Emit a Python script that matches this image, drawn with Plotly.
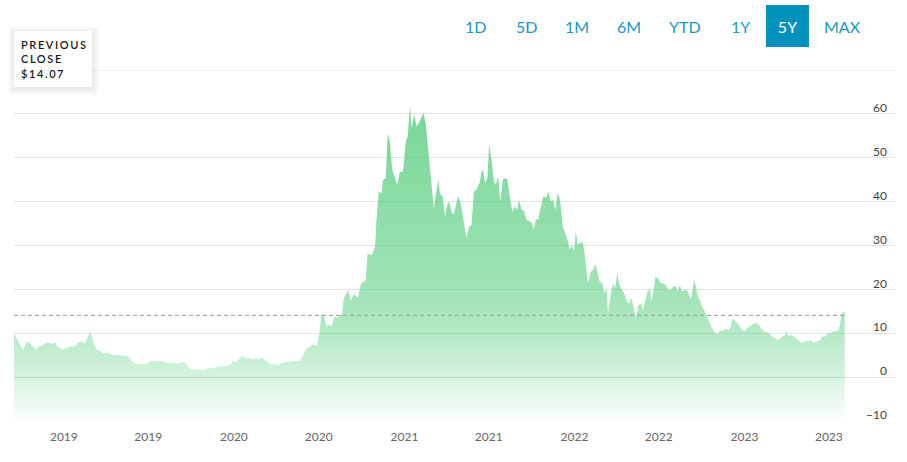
import pandas as pd
import plotly.graph_objects as go

# ---------------- data ----------------
START_DATE = "2018-09-16"
RANGE_END_DATE = "2023-11-20"

day_offsets = [
    0, 6, 13, 19, 24, 27, 34, 41, 47, 52,
    59, 67, 73, 81, 88, 94, 102, 109, 116, 124,
    131, 137, 145, 152, 157, 163, 167, 172, 177, 185,
    191, 199, 206, 212, 220, 227, 234, 242, 249, 255,
    263, 270, 277, 285, 292, 298, 306, 317, 324, 338,
    352, 360, 367, 373, 378, 388, 399, 410, 416, 424,
    431, 438, 446, 456, 464, 470, 478, 485, 491, 497,
    504, 510, 517, 524, 532, 539, 545, 552, 558, 566,
    573, 582, 588, 596, 603, 609, 614, 617, 620, 628,
    635, 642, 650, 655, 660, 665, 671, 674, 682, 687,
    695, 704, 708, 717, 723, 730, 738, 745, 755, 759,
    768, 775, 778, 783, 789, 792, 798, 802, 807, 812,
    818, 823, 828, 835, 841, 845, 850, 853, 859, 864,
    869, 875, 879, 884, 889, 895, 901, 906, 911, 914,
    920, 925, 930, 934, 939, 944, 949, 953, 959, 964,
    971, 977, 982, 987, 993, 999, 1004, 1007, 1011, 1016,
    1020, 1025, 1030, 1034, 1039, 1044, 1049, 1054, 1059, 1064,
    1070, 1075, 1080, 1084, 1090, 1094, 1100, 1106, 1111, 1116,
    1120, 1125, 1130, 1136, 1142, 1147, 1152, 1157, 1162, 1167,
    1172, 1178, 1182, 1188, 1193, 1198, 1202, 1206, 1210, 1215,
    1220, 1224, 1228, 1232, 1238, 1243, 1248, 1253, 1258, 1262,
    1267, 1272, 1275, 1281, 1286, 1290, 1295, 1299, 1304, 1310,
    1315, 1320, 1326, 1331, 1335, 1340, 1346, 1350, 1356, 1360,
    1365, 1368, 1372, 1377, 1383, 1388, 1393, 1399, 1404, 1410,
    1415, 1420, 1424, 1429, 1434, 1440, 1446, 1451, 1454, 1459,
    1463, 1467, 1472, 1477, 1483, 1490, 1497, 1504, 1510, 1515,
    1522, 1527, 1533, 1539, 1541, 1547, 1554, 1562, 1567, 1572,
    1579, 1587, 1594, 1599, 1605, 1612, 1619, 1626, 1633, 1640,
    1647, 1655, 1658, 1662, 1669, 1676, 1683, 1690, 1698, 1705,
    1710, 1715, 1723, 1730, 1735, 1740, 1748, 1755, 1762, 1768,
    1773, 1776, 1780, 1783,
]

prices = [
    10.0, 8.9, 7.3, 6.2, 7.3, 8.1, 7.7, 6.9, 6.2, 6.9,
    7.1, 7.7, 7.9, 7.6, 7.9, 6.9, 6.3, 6.5, 6.8, 6.9,
    7.1, 7.9, 8.1, 7.7, 8.9, 10.2, 9.2, 7.3, 6.3, 6.0,
    5.4, 5.6, 5.3, 5.0, 5.1, 5.0, 5.0, 4.8, 4.3, 3.4,
    3.0, 2.9, 2.9, 3.0, 3.7, 3.6, 3.6, 3.7, 3.3, 3.3,
    3.1, 3.4, 3.3, 2.4, 1.8, 1.8, 1.7, 1.6, 2.0, 2.1,
    2.0, 2.4, 2.5, 2.6, 2.7, 3.7, 3.5, 4.3, 4.8, 4.3,
    4.5, 4.0, 4.3, 4.0, 4.4, 3.9, 3.3, 2.7, 3.1, 2.7,
    3.2, 3.3, 3.5, 3.6, 3.7, 3.6, 3.7, 4.3, 4.6, 6.5,
    6.9, 7.4, 7.2, 9.5, 14.5, 14.1, 11.4, 12.0, 11.6, 13.7,
    13.6, 14.5, 17.9, 19.8, 17.5, 18.9, 18.1, 21.3, 22.1, 28.2,
    27.8, 29.7, 35.8, 42.3, 41.9, 44.9, 45.3, 55.6, 53.3, 47.2,
    45.3, 43.8, 46.8, 46.8, 53.7, 54.8, 61.8, 56.7, 59.8, 57.1,
    57.9, 59.4, 60.2, 57.5, 51.4, 44.0, 38.5, 41.9, 45.0, 41.9,
    41.2, 36.6, 39.3, 40.0, 37.7, 37.0, 39.3, 41.3, 39.6, 36.2,
    31.7, 34.3, 34.7, 42.3, 42.7, 44.2, 46.9, 47.3, 44.2, 45.4,
    53.0, 49.5, 44.6, 43.8, 45.7, 40.0, 45.0, 45.4, 45.1, 41.2,
    37.7, 38.9, 38.1, 40.4, 38.1, 38.1, 35.8, 35.5, 35.2, 33.7,
    36.0, 36.0, 38.1, 41.2, 40.8, 42.3, 40.0, 40.4, 38.1, 41.9,
    40.4, 34.3, 33.2, 31.3, 29.0, 30.1, 28.6, 33.2, 30.1, 30.5,
    30.9, 29.0, 24.4, 21.4, 24.0, 24.4, 25.8, 23.7, 21.4, 21.8,
    19.1, 20.2, 14.5, 19.1, 21.4, 20.2, 23.7, 21.4, 19.9, 19.1,
    17.2, 16.8, 18.0, 15.3, 13.6, 16.4, 16.8, 15.3, 18.3, 19.5,
    20.2, 17.2, 19.1, 22.9, 22.5, 21.4, 21.4, 21.0, 19.9, 19.9,
    20.6, 20.8, 19.5, 21.0, 19.5, 19.9, 19.7, 18.0, 18.0, 22.0,
    21.0, 18.7, 17.6, 16.1, 14.9, 13.0, 11.5, 10.3, 9.8, 10.7,
    10.6, 11.1, 10.7, 11.5, 13.2, 12.9, 12.1, 10.9, 10.4, 10.9,
    11.6, 12.1, 12.3, 11.9, 10.9, 10.4, 10.1, 9.4, 8.8, 8.4,
    9.1, 9.6, 10.4, 9.4, 9.6, 9.1, 8.4, 7.8, 8.3, 8.1,
    8.6, 7.8, 8.1, 8.4, 9.4, 9.2, 10.0, 10.1, 10.6, 10.4,
    11.9, 14.2, 14.9, 14.9,
]

PREVIOUS_CLOSE = 14.07
Y_MIN, Y_MAX = -10, 70
y_tick_values = [-10, 0, 10, 20, 30, 40, 50, 60]
x_tick_dates = ["2019-01-01", "2019-07-01", "2020-01-01", "2020-07-01",
                "2021-01-01", "2021-07-01", "2022-01-01", "2022-07-01",
                "2023-01-01", "2023-07-01"]
x_tick_labels = ["2019", "2019", "2020", "2020", "2021", "2021",
                 "2022", "2022", "2023", "2023"]
range_buttons = ["1D", "5D", "1M", "6M", "YTD", "1Y", "5Y", "MAX"]
ACTIVE_RANGE = "5Y"

# ---------------- layout geometry ----------------
W, H = 907, 462
ML, MR, MT, MB = 14, 12, 70, 41


def px_x(px):
    return (px - ML) / (W - ML - MR)


def px_y(py):
    return (H - MB - py) / (H - MT - MB)


dates = pd.to_datetime(START_DATE) + pd.to_timedelta(day_offsets, unit="D")

GRID = "#e2e2e2"
FONT = "Lato, 'Open Sans', sans-serif"
BTN_COLOR = "#1b97c3"
ACTIVE_BG = "#0091bd"

fig = go.Figure()

fig.add_trace(go.Scatter(
    x=dates, y=[Y_MIN] * len(dates), mode="lines",
    line=dict(width=0), hoverinfo="skip", showlegend=False,
))
fig.add_trace(go.Scatter(
    x=dates, y=prices, mode="lines",
    line=dict(width=0, color="rgba(84,205,124,0.8)"),
    fill="tonexty",
    fillgradient=dict(
        type="vertical", start=Y_MIN, stop=62,
        colorscale=[
            [0.0, "rgba(84,205,124,0.02)"],
            [0.139, "rgba(84,205,124,0.24)"],
            [0.278, "rgba(84,205,124,0.44)"],
            [0.417, "rgba(84,205,124,0.56)"],
            [0.694, "rgba(84,205,124,0.68)"],
            [1.0, "rgba(84,205,124,0.80)"],
        ],
    ),
    showlegend=False,
    hovertemplate="%{x|%b %d, %Y}<br>$%{y:.2f}<extra></extra>",
))

shapes = []
# top gridline (unlabelled)
shapes.append(dict(type="line", xref="paper", yref="y", x0=0, x1=1,
                   y0=Y_MAX, y1=Y_MAX, line=dict(color=GRID, width=1),
                   layer="below"))
# previous close dashed line
shapes.append(dict(type="line", xref="x", yref="y", x0=dates[0], x1=dates[-1],
                   y0=PREVIOUS_CLOSE, y1=PREVIOUS_CLOSE,
                   line=dict(color="#9a9a9a", width=1, dash="4px,3px"),
                   layer="above"))
# box soft shadow + box
bx0, by0, bx1, by1 = 14, 31, 92, 87
for i in range(7, 0, -1):
    shapes.append(dict(type="rect", xref="paper", yref="paper",
                       x0=px_x(bx0 - i + 1), x1=px_x(bx1 + i),
                       y0=px_y(by1 + i + 1), y1=px_y(by0 - i + 2),
                       fillcolor="rgba(0,0,0,0.012)", line=dict(width=0),
                       layer="above"))
shapes.append(dict(type="rect", xref="paper", yref="paper",
                   x0=px_x(bx0), x1=px_x(bx1), y0=px_y(by1), y1=px_y(by0),
                   fillcolor="white", line=dict(width=0), layer="above"))

prev_text = "<br>".join(
    f'<span style="letter-spacing:1.6px">{line}</span>'
    for line in ["PREVIOUS", "CLOSE", f"${PREVIOUS_CLOSE:.2f}"]
)
annotations = [dict(
    xref="paper", yref="paper", x=px_x(19), y=px_y(59),
    xanchor="left", yanchor="middle", align="left", showarrow=False,
    text=prev_text,
    font=dict(family=FONT, size=11, color="#1a1a1a", weight=600),
)]

button_centers = [475, 526, 577, 629, 685, 740, 787.5, 842]
for label, cx in zip(range_buttons, button_centers):
    active = label == ACTIVE_RANGE
    ann = dict(xref="paper", yref="paper", x=px_x(cx), y=px_y(26),
               xanchor="center", yanchor="middle", showarrow=False,
               text=label,
               font=dict(family=FONT, size=16,
                         color="white" if active else BTN_COLOR))
    if active:
        ann.update(bgcolor=ACTIVE_BG, width=43, height=42,
                   borderpad=0, borderwidth=0)
    annotations.append(ann)

fig.update_layout(
    width=W, height=H,
    margin=dict(l=ML, r=MR, t=MT, b=MB, pad=0),
    paper_bgcolor="white", plot_bgcolor="white",
    showlegend=False,
    shapes=shapes,
    annotations=annotations,
    xaxis=dict(
        type="date", range=[START_DATE, RANGE_END_DATE],
        tickvals=x_tick_dates, ticktext=x_tick_labels,
        showgrid=False, zeroline=False, showline=False, ticks="",
        tickfont=dict(family=FONT, size=12, color="#666666"),
        ticklabelstandoff=7,
        fixedrange=True,
    ),
    yaxis=dict(
        range=[Y_MIN, Y_MAX], tickvals=y_tick_values,
        side="right", ticklabelposition="inside",
        ticklabeloverflow="allow",
        showgrid=True, gridcolor=GRID, gridwidth=1,
        zeroline=False, showline=False, ticks="",
        tickfont=dict(family=FONT, size=12, color="#444444"),
        ticklabelshift=-6, ticklabelstandoff=5,
        fixedrange=True,
    ),
)

fig.write_html("out.html", config={"displayModeBar": False})
